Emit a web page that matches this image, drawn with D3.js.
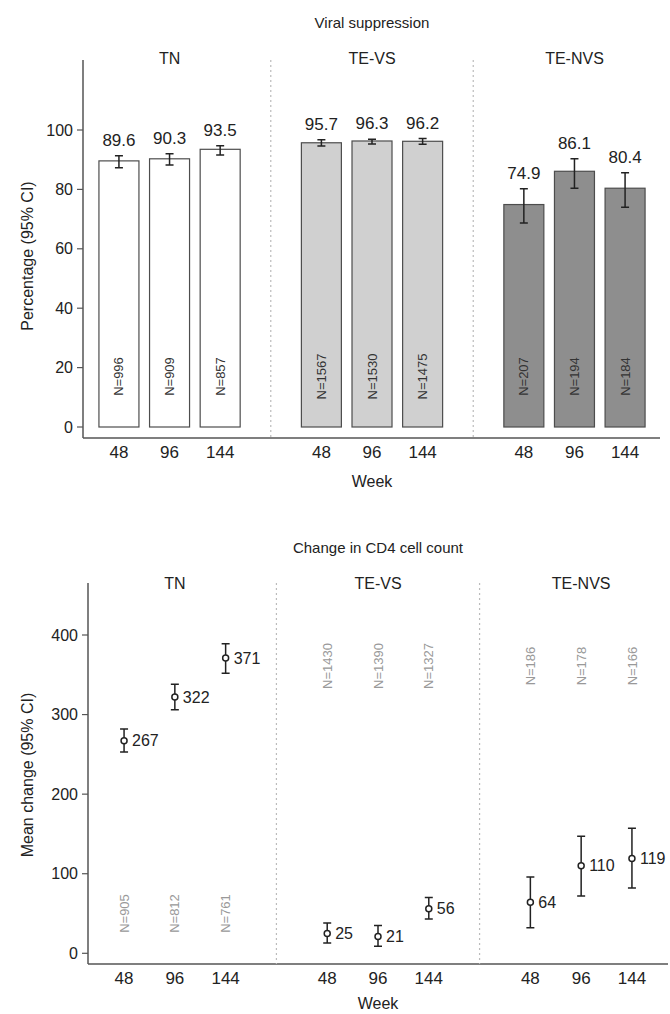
<!DOCTYPE html>
<html>
<head>
<meta charset="utf-8">
<script src="https://cdn.jsdelivr.net/npm/d3@7"></script>
<style>
  body { margin: 0; background: #fff; }
  svg text { font-family: "Liberation Sans", Arial, sans-serif; fill: #222; }
</style>
</head>
<body>
<div id="chart"></div>
<script>
const groups = ["TN", "TE-VS", "TE-NVS"];
const weeks = [48, 96, 144];

// viral suppression (%)
const vsPct = [[89.6, 90.3, 93.5], [95.7, 96.3, 96.2], [74.9, 86.1, 80.4]];
const vsLow = [[87.3, 88.2, 91.6], [94.6, 95.3, 95.2], [68.7, 80.4, 74.0]];
const vsHigh = [[91.3, 92.0, 94.7], [96.7, 96.9, 97.1], [80.2, 90.3, 85.6]];
const vsN = [[996, 909, 857], [1567, 1530, 1475], [207, 194, 184]];
const vsFill = ["#ffffff", "#d0d0d0", "#8e8e8e"];

// change in CD4 cell count
const cd4Mean = [[267, 322, 371], [25, 21, 56], [64, 110, 119]];
const cd4Low = [[253, 306, 352], [13, 9, 43], [32, 72, 82]];
const cd4High = [[282, 338, 389], [38, 35, 70], [96, 147, 157]];
const cd4N = [[905, 812, 761], [1430, 1390, 1327], [186, 178, 166]];
const cd4NAt = [50, 361, 361];

const width = 670, height = 1014;

const svg = d3.select("#chart").append("svg")
  .attr("width", width)
  .attr("height", height);

// slot index: three weeks per group, one empty slot between groups
const slot = (g, w) => g * 4 + w;

const rows = [];
groups.forEach((g, gi) => weeks.forEach((wk, wi) => rows.push({ g: gi, w: wi, week: wk })));

const drawFrame = (cfg) => {
  const { x, y, top, axisY, ticks, title, yLabel, stripY, titleY, weekY, weekLabelY, labelY } = cfg;

  // axes lines
  svg.append("line")
    .attr("x1", x.range()[0]).attr("x2", x.range()[0])
    .attr("y1", top).attr("y2", axisY)
    .attr("stroke", "#555").attr("stroke-width", 1.5);
  svg.append("line")
    .attr("x1", x.range()[0]).attr("x2", x.range()[1])
    .attr("y1", axisY).attr("y2", axisY)
    .attr("stroke", "#555").attr("stroke-width", 1.5);

  // y ticks
  const yt = svg.append("g");
  yt.selectAll("line").data(ticks).enter().append("line")
    .attr("x1", x.range()[0] - 6).attr("x2", x.range()[0])
    .attr("y1", (d) => y(d)).attr("y2", (d) => y(d))
    .attr("stroke", "#555").attr("stroke-width", 1.2);
  yt.selectAll("text").data(ticks).enter().append("text")
    .attr("x", x.range()[0] - 10)
    .attr("y", (d) => y(d))
    .attr("dy", "0.35em")
    .attr("text-anchor", "end")
    .attr("font-size", 16)
    .text((d) => d);

  // panel dividers
  svg.selectAll(null).data([3, 7]).enter().append("line")
    .attr("x1", (d) => x(d)).attr("x2", (d) => x(d))
    .attr("y1", top).attr("y2", axisY)
    .attr("stroke", "#bbb").attr("stroke-width", 1.2)
    .attr("stroke-dasharray", "2,3");

  // strip labels
  svg.selectAll(null).data(groups).enter().append("text")
    .attr("x", (d, i) => x(slot(i, 1)))
    .attr("y", stripY)
    .attr("dy", "0.35em")
    .attr("text-anchor", "middle")
    .attr("font-size", 16)
    .text((d) => d);

  // x tick labels
  svg.selectAll(null).data(rows).enter().append("text")
    .attr("x", (d) => x(slot(d.g, d.w)))
    .attr("y", weekY)
    .attr("dy", "0.35em")
    .attr("text-anchor", "middle")
    .attr("font-size", 17)
    .text((d) => d.week);

  svg.append("text")
    .attr("x", x(slot(1, 1))).attr("y", weekLabelY)
    .attr("dy", "0.35em").attr("text-anchor", "middle")
    .attr("font-size", 16).text("Week");

  svg.append("text")
    .attr("x", x(slot(1, 1))).attr("y", titleY)
    .attr("dy", "0.35em").attr("text-anchor", "middle")
    .attr("font-size", 15).text(title);

  svg.append("text")
    .attr("transform", `translate(27,${labelY}) rotate(-90)`)
    .attr("dy", "0.35em").attr("text-anchor", "middle")
    .attr("font-size", 16).text(yLabel);
};

// ---------- top: viral suppression ----------
const x1 = d3.scaleLinear().domain([-0.71, 10.69]).range([83, 660]);
const y1 = d3.scaleLinear().domain([0, 100]).range([427, 130]);

drawFrame({
  x: x1, y: y1, top: 60, axisY: 438, ticks: [0, 20, 40, 60, 80, 100],
  title: "Viral suppression", yLabel: "Percentage (95% CI)",
  stripY: 58, titleY: 23, weekY: 452, weekLabelY: 481, labelY: 256,
});

const barW = 40;
svg.append("g").selectAll("rect").data(rows).enter().append("rect")
  .attr("x", (d) => x1(slot(d.g, d.w)) - barW / 2)
  .attr("y", (d) => y1(vsPct[d.g][d.w]))
  .attr("width", barW)
  .attr("height", (d) => y1(0) - y1(vsPct[d.g][d.w]))
  .attr("fill", (d) => vsFill[d.g])
  .attr("stroke", "#4d4d4d")
  .attr("stroke-width", 1.2);

const eb1 = svg.append("g").attr("stroke", "#222").attr("stroke-width", 1.5);
eb1.selectAll(null).data(rows).enter().append("path")
  .attr("fill", "none")
  .attr("d", (d) => {
    const cx = x1(slot(d.g, d.w));
    const lo = y1(vsLow[d.g][d.w]), hi = y1(vsHigh[d.g][d.w]);
    return `M${cx - 4},${hi}H${cx + 4}M${cx},${hi}V${lo}M${cx - 4},${lo}H${cx + 4}`;
  });

svg.selectAll(null).data(rows).enter().append("text")
  .attr("x", (d) => x1(slot(d.g, d.w)))
  .attr("y", (d) => y1(vsHigh[d.g][d.w]) - 10)
  .attr("text-anchor", "middle")
  .attr("font-size", 17)
  .text((d) => vsPct[d.g][d.w].toFixed(1));

svg.selectAll(null).data(rows).enter().append("text")
  .attr("transform", (d) => `translate(${x1(slot(d.g, d.w))},${y1(17)}) rotate(-90)`)
  .attr("dy", "0.35em")
  .attr("text-anchor", "middle")
  .attr("font-size", 13)
  .style("fill", "#333")
  .text((d) => "N=" + vsN[d.g][d.w]);

// ---------- bottom: CD4 change ----------
const x2 = d3.scaleLinear().domain([-0.71, 10.71]).range([88, 668]);
const y2 = d3.scaleLinear().domain([0, 400]).range([953.3, 635]);

drawFrame({
  x: x2, y: y2, top: 583, axisY: 964, ticks: [0, 100, 200, 300, 400],
  title: "Change in CD4 cell count", yLabel: "Mean change (95% CI)",
  stripY: 583, titleY: 548, weekY: 978, weekLabelY: 1003, labelY: 775,
});

const eb2 = svg.append("g").attr("stroke", "#222").attr("stroke-width", 1.5);
eb2.selectAll(null).data(rows).enter().append("path")
  .attr("fill", "none")
  .attr("d", (d) => {
    const cx = x2(slot(d.g, d.w));
    const lo = y2(cd4Low[d.g][d.w]), hi = y2(cd4High[d.g][d.w]);
    return `M${cx - 4},${hi}H${cx + 4}M${cx},${hi}V${lo}M${cx - 4},${lo}H${cx + 4}`;
  });

svg.append("g").selectAll("circle").data(rows).enter().append("circle")
  .attr("cx", (d) => x2(slot(d.g, d.w)))
  .attr("cy", (d) => y2(cd4Mean[d.g][d.w]))
  .attr("r", 3)
  .attr("fill", "#fff")
  .attr("stroke", "#222")
  .attr("stroke-width", 1.5);

svg.selectAll(null).data(rows).enter().append("text")
  .attr("x", (d) => x2(slot(d.g, d.w)) + 8)
  .attr("y", (d) => y2(cd4Mean[d.g][d.w]))
  .attr("dy", "0.35em")
  .attr("font-size", 16)
  .text((d) => cd4Mean[d.g][d.w]);

svg.selectAll(null).data(rows).enter().append("text")
  .attr("transform", (d) => `translate(${x2(slot(d.g, d.w))},${y2(cd4NAt[d.g])}) rotate(-90)`)
  .attr("dy", "0.35em")
  .attr("text-anchor", "middle")
  .attr("font-size", 13)
  .style("fill", "#999")
  .text((d) => "N=" + cd4N[d.g][d.w]);
</script>
</body>
</html>
